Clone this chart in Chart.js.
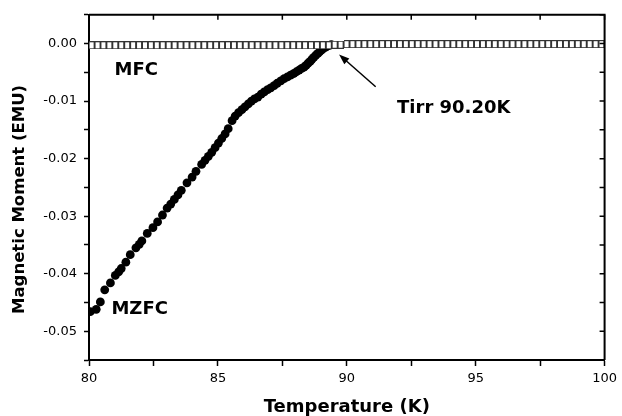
<!DOCTYPE html>
<html lang="en">
<head>
    <meta charset="UTF-8">
    <title>Magnetic Moment vs Temperature</title>
    <script src="https://cdn.jsdelivr.net/npm/chart.js"></script>
    <style>
        body { margin: 0; background: #fff; }
        #chart { display: block; }
    </style>
</head>
<body>
    <canvas id="chart" width="622" height="416"></canvas>

    <script>
        // MFC (open squares) - field cooled, essentially flat near zero
        const mfcTemps = [80.10, 80.33, 80.56, 80.79, 81.02, 81.25, 81.48, 81.71, 81.94, 82.17,
            82.40, 82.63, 82.86, 83.09, 83.32, 83.55, 83.78, 84.01, 84.24, 84.47,
            84.70, 84.93, 85.16, 85.39, 85.62, 85.85, 86.08, 86.31, 86.54, 86.77,
            87.00, 87.23, 87.46, 87.69, 87.92, 88.15, 88.38, 88.61, 88.84, 89.07,
            89.30, 89.53, 89.76, 89.99, 90.22, 90.45, 90.68, 90.91, 91.14, 91.37,
            91.60, 91.83, 92.06, 92.29, 92.52, 92.75, 92.98, 93.21, 93.44, 93.67,
            93.90, 94.13, 94.36, 94.59, 94.82, 95.05, 95.28, 95.51, 95.74, 95.97,
            96.20, 96.43, 96.66, 96.89, 97.12, 97.35, 97.58, 97.81, 98.04, 98.27,
            98.50, 98.73, 98.96, 99.19, 99.42, 99.65, 99.88];
        const mfcValues = [-0.0003, -0.0003, -0.0003, -0.0003, -0.0003, -0.0003, -0.0003, -0.0003, -0.0003, -0.0003,
            -0.0003, -0.0003, -0.0003, -0.0003, -0.0003, -0.0003, -0.0003, -0.0003, -0.0003, -0.0003,
            -0.0003, -0.0003, -0.0003, -0.0003, -0.0003, -0.0003, -0.0003, -0.0003, -0.0003, -0.0003,
            -0.0003, -0.0003, -0.0003, -0.0003, -0.0003, -0.0003, -0.0003, -0.0003, -0.0003, -0.0003,
            -0.0003, -0.0002, -0.0002, -0.0001, -0.0001, -0.0001, -0.0001, -0.0001, -0.0001, -0.0001,
            -0.0001, -0.0001, -0.0001, -0.0001, -0.0001, -0.0001, -0.0001, -0.0001, -0.0001, -0.0001,
            -0.0001, -0.0001, -0.0001, -0.0001, -0.0001, -0.0001, -0.0001, -0.0001, -0.0001, -0.0001,
            -0.0001, -0.0001, -0.0001, -0.0001, -0.0001, -0.0001, -0.0001, -0.0001, -0.0001, -0.0001,
            -0.0001, -0.0001, -0.0001, -0.0001, -0.0001, -0.0001, -0.0001];

        // MZFC (filled circles) - zero field cooled
        const mzfcTemps = [80.05, 80.28, 80.44, 80.61, 80.83, 81.02, 81.15, 81.25, 81.43, 81.60,
            81.82, 81.95, 82.05, 82.26, 82.48, 82.66, 82.85, 83.03, 83.17, 83.31,
            83.45, 83.58, 83.80, 84.00, 84.15, 84.37, 84.50, 84.63, 84.76, 84.89,
            85.02, 85.15, 85.28, 85.40, 85.55, 85.67, 85.80, 85.93, 86.05, 86.18,
            86.30, 86.42, 86.55, 86.68, 86.80, 86.93, 87.05, 87.18, 87.30, 87.44,
            87.57, 87.70, 87.82, 87.95, 88.05, 88.15, 88.25, 88.34, 88.42, 88.50,
            88.58, 88.65, 88.72, 88.80, 88.88, 88.95, 89.03, 89.10, 89.18, 89.25,
            89.33, 89.40];
        const mzfcValues = [-0.0466, -0.0462, -0.0449, -0.0428, -0.0416, -0.0403, -0.0397, -0.0391, -0.0380, -0.0367,
            -0.0355, -0.0349, -0.0343, -0.0330, -0.0320, -0.0310, -0.0298, -0.0286, -0.0279, -0.0271,
            -0.0263, -0.0255, -0.0242, -0.0232, -0.0222, -0.0210, -0.0203, -0.0196, -0.0189, -0.0181,
            -0.0173, -0.0165, -0.0157, -0.0148, -0.0134, -0.0126, -0.0120, -0.0115, -0.0110, -0.0105,
            -0.0100, -0.0096, -0.0093, -0.0088, -0.0084, -0.0080, -0.0077, -0.0073, -0.0069, -0.0065,
            -0.0061, -0.0058, -0.0055, -0.0052, -0.0049, -0.0046, -0.0043, -0.0041, -0.0038, -0.0034,
            -0.0031, -0.0027, -0.0024, -0.0020, -0.0017, -0.0014, -0.0011, -0.0008, -0.0006, -0.0004,
            -0.0003, -0.0002];

        // text labels placed in data coordinates
        const labels = [
            { text: 'MFC', x: 80.99, y: -0.0046 },
            { text: 'MZFC', x: 80.87, y: -0.0462 },
            { text: 'Tirr 90.20K', x: 91.95, y: -0.0113 }
        ];
        const arrowFrom = { x: 91.12, y: -0.0075 };
        const arrowTo = { x: 89.7, y: -0.0019 };
        const yTitle = 'Magnetic Moment (EMU)';

        const FONT = "'DejaVu Sans', Verdana, sans-serif";

        // open square marker, a bit taller than wide like the original
        const sq = document.createElement('canvas');
        sq.width = 6;
        sq.height = 8;
        const sctx = sq.getContext('2d');
        sctx.fillStyle = '#fff';
        sctx.fillRect(0, 0, 6, 8);
        sctx.strokeStyle = '#333';
        sctx.lineWidth = 1;
        sctx.strokeRect(0.5, 0.5, 5, 7);

        const frame = {
            id: 'frame',
            afterDraw(chart) {
                const ctx = chart.ctx;
                const a = chart.chartArea;
                const xs = chart.scales.x, ys = chart.scales.y;
                ctx.save();
                ctx.strokeStyle = '#000';
                ctx.lineWidth = 2;
                ctx.beginPath();
                ctx.moveTo(a.left, a.top);
                ctx.lineTo(a.right, a.top);
                ctx.lineTo(a.right, a.bottom);
                ctx.stroke();
                // mirrored ticks pointing inward
                ctx.lineWidth = 1.5;
                ctx.beginPath();
                xs.ticks.forEach(t => {
                    const px = xs.getPixelForValue(t.value);
                    ctx.moveTo(px, a.top);
                    ctx.lineTo(px, a.top + 5);
                });
                ys.ticks.forEach(t => {
                    const py = ys.getPixelForValue(t.value);
                    ctx.moveTo(a.right, py);
                    ctx.lineTo(a.right - 5, py);
                });
                ctx.stroke();

                // annotations
                ctx.fillStyle = '#000';
                ctx.font = 'bold 18px ' + FONT;
                ctx.textBaseline = 'middle';
                ctx.textAlign = 'left';
                labels.forEach(l => {
                    ctx.fillText(l.text, xs.getPixelForValue(l.x), ys.getPixelForValue(l.y));
                });

                const x1 = xs.getPixelForValue(arrowFrom.x), y1 = ys.getPixelForValue(arrowFrom.y);
                const x2 = xs.getPixelForValue(arrowTo.x), y2 = ys.getPixelForValue(arrowTo.y);
                const ang = Math.atan2(y2 - y1, x2 - x1);
                ctx.lineWidth = 1.5;
                ctx.beginPath();
                ctx.moveTo(x1, y1);
                ctx.lineTo(x2 - 6 * Math.cos(ang), y2 - 6 * Math.sin(ang));
                ctx.stroke();
                ctx.beginPath();
                ctx.moveTo(x2, y2);
                ctx.lineTo(x2 - 11 * Math.cos(ang - 0.35), y2 - 11 * Math.sin(ang - 0.35));
                ctx.lineTo(x2 - 11 * Math.cos(ang + 0.35), y2 - 11 * Math.sin(ang + 0.35));
                ctx.closePath();
                ctx.fill();

                // y axis title (sits a little below the plot centre in the original)
                ctx.translate(20, (a.top + a.bottom) / 2 + 12);
                ctx.rotate(-Math.PI / 2);
                ctx.font = 'bold 16.5px ' + FONT;
                ctx.textAlign = 'center';
                ctx.fillText(yTitle, 0, 0);
                ctx.restore();
            }
        };

        new Chart(document.getElementById('chart'), {
            type: 'scatter',
            data: {
                datasets: [{
                    label: 'MFC',
                    data: mfcTemps.map((t, i) => ({ x: t, y: mfcValues[i] })),
                    pointStyle: sq,
                    order: 0
                }, {
                    label: 'MZFC',
                    data: mzfcTemps.map((t, i) => ({ x: t, y: mzfcValues[i] })),
                    pointStyle: 'circle',
                    pointRadius: 4.4,
                    backgroundColor: '#000',
                    borderColor: '#000',
                    borderWidth: 0,
                    order: 1
                }]
            },
            options: {
                responsive: false,
                animation: false,
                devicePixelRatio: 1,
                layout: { padding: { top: 13, right: 11, left: 0, bottom: 0 } },
                plugins: {
                    legend: { display: false },
                    tooltip: { enabled: false }
                },
                scales: {
                    x: {
                        type: 'linear',
                        min: 80,
                        max: 100,
                        afterFit: s => { s.height = 56; },
                        border: { display: true, color: '#000', width: 2 },
                        grid: { drawOnChartArea: false, drawTicks: true, tickLength: 6, color: '#000', tickWidth: 1.5 },
                        ticks: {
                            stepSize: 2.5,
                            color: '#000',
                            padding: 5,
                            maxRotation: 0,
                            font: { family: FONT, size: 13 },
                            callback: v => (Math.abs(v % 5) < 1e-6 ? String(v) : '')
                        },
                        title: {
                            display: true,
                            text: 'Temperature (K)',
                            color: '#000',
                            font: { family: FONT, size: 18, weight: 'bold' },
                            padding: { top: 4, bottom: -2 }
                        }
                    },
                    y: {
                        type: 'linear',
                        min: -0.055,
                        max: 0.005,
                        afterFit: s => { s.width = 89; },
                        border: { display: true, color: '#000', width: 2 },
                        grid: { drawOnChartArea: false, drawTicks: true, tickLength: 5, color: '#000', tickWidth: 1.5 },
                        ticks: {
                            stepSize: 0.005,
                            color: '#000',
                            padding: 7,
                            font: { family: FONT, size: 13 },
                            callback: v => {
                                const h = v * 100;
                                if (Math.abs(h - Math.round(h)) > 1e-6) return '';
                                return Math.abs(v) < 1e-9 ? '0.00' : v.toFixed(2);
                            }
                        },
                        title: { display: false }
                    }
                }
            },
            plugins: [frame]
        });
    </script>
</body>
</html>
